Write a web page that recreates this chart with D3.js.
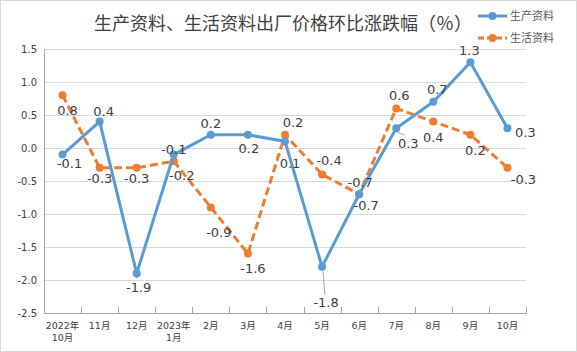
<!DOCTYPE html>
<html><head><meta charset="utf-8">
<script src="https://cdn.jsdelivr.net/npm/d3@7"></script>
<style>body{margin:0;background:#fff}svg{display:block}</style>
</head><body><svg id="c" width="577" height="352"></svg>
<script>
const categories = [["2022年","10月"],["11月"],["12月"],["2023年","1月"],["2月"],["3月"],["4月"],["5月"],["6月"],["7月"],["8月"],["9月"],["10月"]];
const seriesNames = ["生产资料","生活资料"];
const production = [-0.1,0.4,-1.9,-0.1,0.2,0.2,0.1,-1.8,-0.7,0.3,0.7,1.3,0.3];
const living = [0.8,-0.3,-0.3,-0.2,-0.9,-1.6,0.2,-0.4,-0.7,0.6,0.4,0.2,-0.3];
const yTicks = [1.5,1.0,0.5,0.0,-0.5,-1.0,-1.5,-2.0,-2.5];
const title = "生产资料、生活资料出厂价格环比涨跌幅（％）";
// label placement offsets (dx, dy of label centre from point)
const prodLabelOff = [[7,9],[4,-10],[2,14],[0,-5],[0,-11],[1,14],[5,22],[4,36],[7,11],[12,15],[4,-12],[-1,-12],[18,4]];
const liveLabelOff = [[5,15],[0,11],[0,11],[8,14],[8,25],[5,15],[8,-12],[7,-14],[1,-12],[3,-13],[0,16],[5,16],[16,12]];
const leaderProd = [7,9];

(function(){
const svg = d3.select("#c");
const W=577,H=352;
const fmt = d3.formatLocale({decimal:".",thousands:",",grouping:[3],currency:["",""],minus:"-"}).format(".1f");
svg.append("rect").attr("x",0.5).attr("y",0.5).attr("width",W-1).attr("height",H-1).attr("fill","#fff").attr("stroke","#d9d9d9");
const pl=44,pr=526,pt=49,pb=313;
const x = d3.scaleBand().domain(d3.range(categories.length)).range([pl,pr]);
const y = d3.scaleLinear().domain([-2.5,1.5]).range([pb,pt]);
const cx = i => x(i)+x.bandwidth()/2;
const font = "'DejaVu Sans', 'Noto Sans CJK SC', sans-serif";

svg.append("g").selectAll("line").data(yTicks).join("line")
  .attr("x1",pl).attr("x2",pr).attr("y1",d=>Math.round(y(d))+0.5).attr("y2",d=>Math.round(y(d))+0.5)
  .attr("stroke",d=>d===-2.5?"#a6a6a6":"#d9d9d9").attr("stroke-width",1);
svg.append("line").attr("x1",pl+0.5).attr("x2",pl+0.5).attr("y1",pt).attr("y2",pb).attr("stroke","#a6a6a6");
const yAxis = d3.axisLeft(y).tickValues(yTicks).tickFormat(fmt).tickSize(0).tickPadding(7);
const ga = svg.append("g").attr("transform",`translate(${pl},0)`).call(yAxis);
ga.select(".domain").remove();
ga.selectAll("text").attr("font-family",font).attr("font-size",10).attr("fill","#404040");
const bounds = d3.range(categories.length+1).map(i=> i<categories.length? x(i): pr);
svg.append("g").selectAll("line").data(bounds).join("line")
  .attr("x1",d=>Math.round(d)+0.5).attr("x2",d=>Math.round(d)+0.5).attr("y1",pb-6).attr("y2",pb+1)
  .attr("stroke","#a6a6a6");
const xLines = [];
categories.forEach((c,i)=>c.forEach((s,k)=>xLines.push({i,k,s})));
svg.append("g").selectAll("text").data(xLines).join("text")
  .attr("x",d=>cx(d.i)).attr("y",d=>326+d.k*12).attr("dy","0.35em").attr("text-anchor","middle")
  .attr("font-family",font).attr("font-size",9.5).attr("fill","#404040")
  .text(d=>d.s);

const blue="#5B9BD5", orange="#ED7D31";
const line = d3.line().x((d,i)=>cx(i)).y(d=>y(d));
svg.append("path").datum(living).attr("d",line).attr("fill","none").attr("stroke",orange).attr("stroke-width",3).attr("stroke-dasharray","8,4");
svg.append("g").selectAll("circle").data(living).join("circle").attr("cx",(d,i)=>cx(i)).attr("cy",d=>y(d)).attr("r",4).attr("fill",orange);
svg.append("path").datum(production).attr("d",line).attr("fill","none").attr("stroke",blue).attr("stroke-width",3);
svg.append("g").selectAll("circle").data(production).join("circle").attr("cx",(d,i)=>cx(i)).attr("cy",d=>y(d)).attr("r",4).attr("fill",blue);

svg.append("g").selectAll("line").data(leaderProd).join("line")
  .attr("x1",i=>cx(i)+1).attr("y1",i=>y(production[i])+4)
  .attr("x2",i=>cx(i)+prodLabelOff[i][0]*0.7).attr("y2",i=>y(production[i])+prodLabelOff[i][1]-8)
  .attr("stroke","#a6a6a6").attr("stroke-width",1);

function labels(data,off){
  svg.append("g").selectAll("text").data(data).join("text")
    .attr("x",(d,i)=>cx(i)+off[i][0]).attr("y",(d,i)=>y(d)+off[i][1]).attr("dy","0.35em")
    .attr("text-anchor","middle").attr("font-family",font).attr("font-size",13).attr("fill","#404040")
    .text(d=>fmt(d));
}
labels(production,prodLabelOff);
labels(living,liveLabelOff);

svg.append("text").attr("x",283).attr("y",30).attr("text-anchor","middle")
  .attr("font-family","'Noto Sans CJK SC', sans-serif").attr("font-size",18).attr("fill","#404040").text(title);

const leg = svg.append("g");
[[blue,null,16],[orange,"6,3",38]].forEach((c,k)=>{
  leg.append("line").attr("x1",478).attr("x2",507).attr("y1",c[2]).attr("y2",c[2]).attr("stroke",c[0]).attr("stroke-width",3).attr("stroke-dasharray",c[1]);
  leg.append("circle").attr("cx",492.5).attr("cy",c[2]).attr("r",4).attr("fill",c[0]);
  leg.append("text").attr("x",510).attr("y",c[2]).attr("dy","0.35em").attr("font-family","'Noto Sans CJK SC', sans-serif")
    .attr("font-size",11).attr("fill","#595959").text(seriesNames[k]);
});
})();
</script></body></html>
